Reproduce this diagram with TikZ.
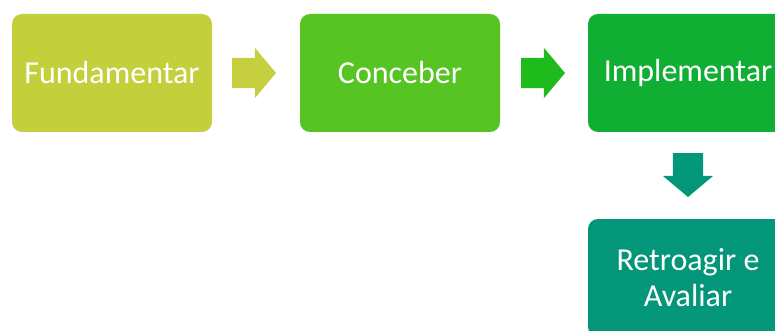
\documentclass[tikz,border=0pt]{standalone}
\usepackage{fontspec}
\setmainfont{Carlito}
\usepackage{xcolor}
\usepackage{tikz}
\usetikzlibrary{shapes,arrows,positioning,calc}

\definecolor{fundgreen}{HTML}{C3D03C}
\definecolor{fundarrow}{HTML}{C6CF3F}
\definecolor{concgreen}{HTML}{56C422}
\definecolor{concarrow}{HTML}{1FBA1B}
\definecolor{implgreen}{HTML}{10AF34}
\definecolor{retrogreen}{HTML}{039679}

\begin{document}
\begin{tikzpicture}[x=1pt, y=1pt, node distance=88pt, outer sep=0pt,
    font=\fontsize{32}{36}\selectfont,
    phase/.style={rectangle, rounded corners=10pt, minimum width=200pt, minimum height=118pt,
        text=white, align=center, inner sep=0pt},
    blockarrow/.style={single arrow, minimum height=44pt, minimum width=50pt,
        single arrow head extend=10pt, single arrow tip angle=100,
        inner xsep=0pt, inner ysep=15pt}]
    \useasboundingbox (0,0) rectangle (775,-331);
    \clip (0,0) rectangle (775,-331);

    \node [phase, fill=fundgreen] (fund) at (112,-73) {Fundamentar};
    \node [phase, fill=concgreen, right=of fund] (conc) {Conceber};
    \node [phase, fill=implgreen, right=of conc] (impl) {Implementar};
    \node [phase, fill=retrogreen, below=87pt of impl] (retro) {Retroagir e\\Avaliar};

    \node [blockarrow, fill=fundarrow, right=20pt of fund] (arr1) {};
    \node [blockarrow, fill=concarrow, right=21pt of conc] (arr2) {};
    \node [blockarrow, fill=retrogreen, shape border rotate=270,
        inner xsep=15pt, inner ysep=0pt, below=21pt of impl] (arr3) {};
\end{tikzpicture}
\end{document}
